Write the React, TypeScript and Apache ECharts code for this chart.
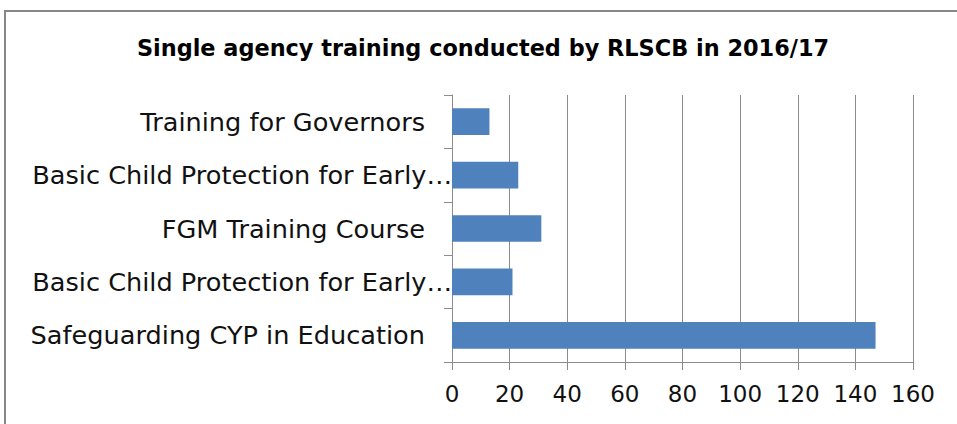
import React, { useEffect, useRef } from "react";
import * as echarts from "echarts";

const titleText = "Single agency training conducted by RLSCB in 2016/17";
const categories = [
  "Safeguarding CYP in Education",
  "Basic Child Protection for Early…",
  "FGM Training Course",
  "Basic Child Protection for Early… ",
  "Training for Governors",
];
const truncated = [false, true, false, true, false];
const values = [147, 21, 31, 23, 13];
const xTicks = [0, 20, 40, 60, 80, 100, 120, 140, 160];

export default function App() {
  const ref = useRef<HTMLDivElement>(null);
  useEffect(() => {
    if (!ref.current) return;
    const chart = echarts.init(ref.current, null, { renderer: "svg" });
    const font = "DejaVu Sans";
    chart.setOption({
      animation: false,
      backgroundColor: "#ffffff",
      graphic: [
        {
          type: "rect",
          shape: { x: 5, y: 11, width: 1000, height: 500 },
          style: { fill: "none", stroke: "#878787", lineWidth: 2 },
          silent: true,
        },
      ],
      title: {
        text: titleText,
        left: 478,
        textAlign: "center",
        top: 32,
        textStyle: { fontFamily: font, fontWeight: "bold", fontSize: 22.4, color: "#000" },
      },
      grid: { left: 452, right: 44, top: 95, bottom: 62, containLabel: false },
      xAxis: {
        type: "value",
        min: xTicks[0],
        max: xTicks[xTicks.length - 1],
        interval: 20,
        axisLine: { show: true, lineStyle: { color: "#8c8c8c", width: 1 } },
        axisTick: { show: true, length: 8, lineStyle: { color: "#8c8c8c" } },
        splitLine: { show: true, lineStyle: { color: "#8c8c8c", width: 1 } },
        axisLabel: { fontFamily: font, fontSize: 23, color: "#111", margin: 20 },
      },
      yAxis: {
        type: "category",
        data: categories,
        axisLine: { show: true, lineStyle: { color: "#8c8c8c", width: 1 } },
        axisTick: { show: true, length: 8, lineStyle: { color: "#8c8c8c" } },
        axisLabel: {
          margin: 0,
          formatter: (v: string, i: number) =>
            truncated[i] ? `{t|${v.trim()}}` : `{n|${v}}`,
          rich: {
            n: { fontFamily: font, fontSize: 25.6, color: "#111", padding: [0, 27, 0, 0] },
            t: { fontFamily: font, fontSize: 25.6, color: "#111" },
          },
        },
      },
      series: [
        {
          type: "bar",
          data: values,
          barCategoryGap: "50%",
          itemStyle: { color: "#4F81BD" },
        },
      ],
    });
    return () => chart.dispose();
  }, []);
  return (
    <div
      ref={ref}
      style={{ position: "fixed", left: 0, top: 0, width: 957, height: 424 }}
    />
  );
}
